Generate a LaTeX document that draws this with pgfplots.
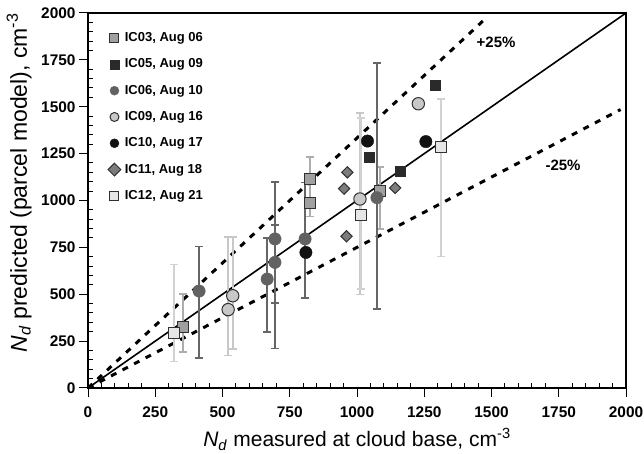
\documentclass[border=0pt]{standalone}
\usepackage{pgfplots}
\pgfplotsset{compat=1.18}
\usepackage{pgfplotstable}
\usepackage{fontspec}
\setmainfont{Liberation Sans}
\definecolor{c03}{HTML}{A0A0A0}
\definecolor{c05}{HTML}{2A2A2A}
\definecolor{c06}{HTML}{626262}
\definecolor{c09}{HTML}{C8C8C8}
\definecolor{c10}{HTML}{121212}
\definecolor{c11}{HTML}{7C7C7C}
\definecolor{c12}{HTML}{E6E6E6}
\definecolor{edge}{HTML}{303030}
\definecolor{e03}{HTML}{ADADAD}
\definecolor{e06}{HTML}{666666}
\definecolor{e09}{HTML}{C8C8C8}
\definecolor{e12}{HTML}{D2D2D2}

\pgfplotstableread{
x y ep em
353 323 178 131
825 1115 117 130
825 987 130 72
1085 1052 127 204
}\icthree
\pgfplotstableread{
x y
1291 1616
1160 1154
1045 1232
}\icfive
\pgfplotstableread{
x y ep em
413 517 237 357
666 581 219 282
695 795 304 584
695 670 200 217
807 795 300 315
1074 1015 718 594
}\icsix
\pgfplotstableread{
x y ep em
521 418 387 246
538 492 313 284
1011 1008 459 510
1228 1516 0 0
}\icnine
\pgfplotstableread{
x y
810 723
1039 1317
1256 1314
}\icten
\pgfplotstableread{
x y
964 1150
952 1063
961 809
1142 1067
}\iceleven
\pgfplotstableread{
x y ep em
320 293 365 153
1015 921 519 393
1313 1285 256 583
}\ictwelve

\pgfplotsset{
  ebar/.style={error bars/.cd, y dir=both, y explicit,
    error bar style={color=#1, line width=2pt},
    error mark options={rotate=90, mark size=4pt, line width=1.5pt, color=#1}},
}

\begin{document}
\begin{tikzpicture}
\begin{axis}[
  scale only axis, width=538pt, height=375pt,
  xmin=0, xmax=2000, ymin=0, ymax=2000,
  xtick={0,250,...,2000}, ytick={0,250,...,2000},
  minor tick num=4,
  xtick pos=left, ytick pos=left,
  tick align=outside, major tick length=9pt, minor tick length=5pt,
  minor x tick style={yshift=5pt}, minor y tick style={xshift=5pt},
  tick style={black, line width=1pt},
  axis line style={line width=1.3pt},
  /pgf/number format/assume math mode=true,
  /pgf/number format/1000 sep={},
  ticklabel style={font=\bfseries\fontsize{15.4}{18}\selectfont},
  xticklabel style={yshift=-6pt},
  xlabel={\textit{N}\textsubscript{\textit{d}} measured at cloud base, cm\textsuperscript{-3}},
  ylabel={\textit{N}\textsubscript{\textit{d}} predicted (parcel model), cm\textsuperscript{-3}},
  every axis x label/.style={at={(rel axis cs:0.5,0)}, anchor=base, yshift=-58.5pt,
    font=\fontsize{21}{25}\selectfont},
  every axis y label/.style={at={([xshift=-61pt]rel axis cs:0,0.547)}, rotate=90, anchor=base,
    font=\fontsize{23}{27}\selectfont},
  legend style={at={(0.037,0.951)}, anchor=north west, draw=none, fill=none,
    font=\bfseries\fontsize{13}{15}\selectfont, row sep=13.3pt, column sep=4pt, inner sep=0pt,
    nodes={inner sep=0pt, text height=10pt, text depth=3pt}},
  legend image code/.code={\draw[#1, mark size=4.5pt] plot coordinates {(0cm,0cm)};},
  legend cell align=left,
  clip=false,
]
\coordinate (ll) at (rel axis cs:0,0);
\coordinate (ur) at (rel axis cs:1,1);
\addplot[forget plot, black, line width=1.6pt] coordinates {(0,0) (2000,2000)};
\addplot[forget plot, black, line width=3pt, dash pattern=on 6pt off 7pt] coordinates {(0,0) (1470,1960)};
\addplot[forget plot, black, line width=3pt, dash pattern=on 6pt off 7pt] coordinates {(0,0) (1980,1485)};

\addplot[only marks, mark=square*, mark size=5.5pt, mark options={fill=c03, draw=edge, line width=1pt}, ebar=e03]
  table[x=x, y=y, y error plus=ep, y error minus=em] {\icthree};
\addlegendentry{IC03, Aug 06}
\addplot[only marks, mark=square*, mark size=5pt, mark options={fill=c05, draw=c05}]
  table[x=x, y=y] {\icfive};
\addlegendentry{IC05, Aug 09}
\addplot[only marks, mark=*, mark size=6.2pt, mark options={fill=c06, draw=c06}, ebar=e06]
  table[x=x, y=y, y error plus=ep, y error minus=em] {\icsix};
\addlegendentry{IC06, Aug 10}
\addplot[only marks, mark=*, mark size=6.2pt, mark options={fill=c09, draw=edge, line width=1pt}, ebar=e09]
  table[x=x, y=y, y error plus=ep, y error minus=em] {\icnine};
\addlegendentry{IC09, Aug 16}
\addplot[only marks, mark=*, mark size=6.2pt, mark options={fill=c10, draw=c10}]
  table[x=x, y=y] {\icten};
\addlegendentry{IC10, Aug 17}
\addplot[only marks, mark=square*, mark size=4pt, mark options={rotate=45, fill=c11, draw=edge, line width=1pt}]
  table[x=x, y=y] {\iceleven};
\addlegendentry{IC11, Aug 18}
\addplot[only marks, mark=square*, mark size=5.5pt, mark options={fill=c12, draw=edge, line width=1pt}, ebar=e12]
  table[x=x, y=y, y error plus=ep, y error minus=em] {\ictwelve};
\addlegendentry{IC12, Aug 21}

\node[font=\bfseries\fontsize{15}{18}\selectfont] at (axis cs:1517,1842) {+25\%};
\node[font=\bfseries\fontsize{15}{18}\selectfont] at (axis cs:1766,1186) {-25\%};
\end{axis}
\pgfresetboundingbox
\path ([xshift=-88pt,yshift=-66pt]ll) rectangle ([xshift=18pt,yshift=13pt]ur);
\end{tikzpicture}
\end{document}
